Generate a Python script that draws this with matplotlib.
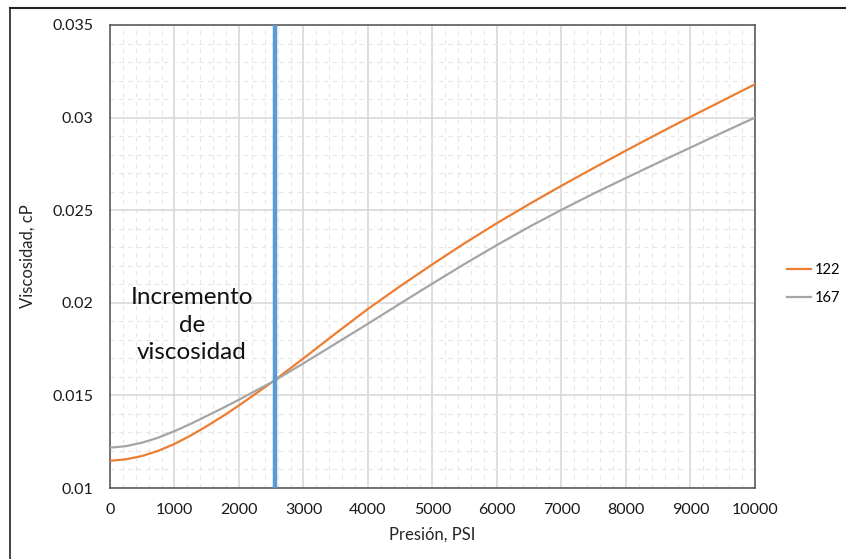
import matplotlib
matplotlib.use("Agg")
import matplotlib.pyplot as plt
from matplotlib.ticker import MultipleLocator
from matplotlib.lines import Line2D

presion=[0,250,500,750,1000,1250,1500,1750,2000,2500,3000,3500,4000,4500,5000,
         5500,6000,6500,7000,7500,8000,8500,9000,9500,10000]
visc_122=[0.01147,0.01155,0.01173,0.01201,0.01238,0.01283,0.01334,0.01388,0.01446,0.01568,0.017,0.01835,0.01967,0.0209,0.02208,
          0.02322,0.0243,0.02533,0.02632,0.02728,0.02822,0.02914,0.03004,0.03092,0.0318]
visc_167=[0.01218,0.01226,0.01245,0.01272,0.01307,0.01346,0.01389,0.01432,0.01477,0.0157,0.01673,0.0178,0.01887,0.01996,0.02104,
          0.0221,0.02312,0.0241,0.02502,0.0259,0.02674,0.02757,0.02838,0.0292,0.03]
labels=["122","167"]
p_corte=2566
texto="Incremento\nde\nviscosidad"

plt.rcParams["font.family"]=["Lato","DejaVu Sans"]
fig=plt.figure(figsize=(8.46,5.59),dpi=100)
ax=fig.add_axes([0.130,0.127,0.7624,0.8283])

#outer frame of the original screenshot (cut at right and bottom)
fig.add_artist(Line2D([10/846,1.0],[1-8/559,1-8/559],transform=fig.transFigure,color="#222222",lw=1.5))
fig.add_artist(Line2D([10/846,10/846],[0,1-8/559],transform=fig.transFigure,color="#222222",lw=1.2))

ax.plot(presion,visc_122,color="#ED7D31",lw=1.6,label=labels[0],zorder=3)
ax.plot(presion,visc_167,color="#A5A5A5",lw=1.6,label=labels[1],zorder=3)
ax.axvline(p_corte,color="#5B9BD5",lw=3.2,zorder=4)

ax.text(1270,0.0188,texto,ha="center",va="center",fontsize=17.5,color="#111111",linespacing=1.4)

ax.set_xlim(0,10000)
ax.set_ylim(0.01,0.035)
ax.xaxis.set_major_locator(MultipleLocator(1000))
ax.xaxis.set_minor_locator(MultipleLocator(200))
ax.yaxis.set_major_locator(MultipleLocator(0.005))
ax.yaxis.set_minor_locator(MultipleLocator(0.001))
ax.set_yticks([0.01,0.015,0.02,0.025,0.03,0.035])
ax.set_yticklabels(["0.01","0.015","0.02","0.025","0.03","0.035"])
ax.grid(which="major",color="#D9D9D9",lw=1.2)
ax.grid(which="minor",color="#E6E6E6",lw=0.8,ls=(0,(4,4)))
ax.set_axisbelow(True)
ax.tick_params(which="both",length=0)
ax.tick_params(axis="y",pad=12,labelsize=11.5,labelcolor="#1a1a1a")
ax.tick_params(axis="x",pad=11,labelsize=11.5,labelcolor="#1a1a1a")
for s in ax.spines.values():
    s.set_color("#505050")
    s.set_linewidth(1.1)

ax.set_xlabel("Presión, PSI",fontsize=12,color="#262626",labelpad=7)
ax.set_ylabel("Viscosidad, cP",fontsize=12,color="#262626",labelpad=12)

ax.legend(loc="center left",bbox_to_anchor=(1.04,0.44),frameon=False,fontsize=10.5,
          handlelength=1.7,handletextpad=0.25,labelspacing=0.95,borderaxespad=0)

fig.savefig("out.png",dpi=100)
